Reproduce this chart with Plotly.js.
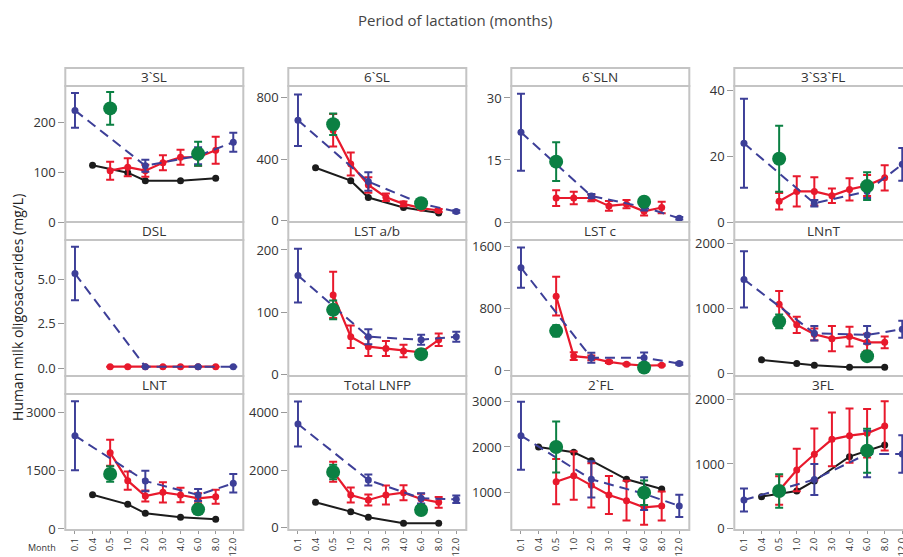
<!DOCTYPE html>
<html>
<head>
<meta charset="utf-8">
<script src="https://cdn.plot.ly/plotly-3.0.1.min.js"></script>
<style>
  html, body { margin: 0; padding: 0; overflow: hidden; background: #fff; }
  #chart { width: 920px; height: 557px; }
</style>
</head>
<body>
<div id="chart"></div>
<script>
// Sampling months (category axis)
const months = ['0.1', '0.4', '0.5', '1.0', '2.0', '3.0', '4.0', '6.0', '8.0', '12.0'];

// Oligosaccharide panels, row by row
const panelNames = ['3`SL', '6`SL', '6`SLN', '3`S3`FL', 'DSL', 'LST a/b', 'LST c', 'LNnT', 'LNT', 'Total LNFP', '2`FL', '3FL'];

// Months at which each cohort was sampled
const blueMonths = ['0.1', '2.0', '6.0', '12.0'];
const redMonths = ['0.5', '1.0', '2.0', '3.0', '4.0', '6.0', '8.0'];
const blackMonths = ['0.4', '1.0', '2.0', '4.0', '8.0'];
const greenMonths = ['0.5', '6.0'];

// Cohort 1 (dashed blue): mean and error, one row per panel
const blueMean = [
  [224, 113, 133, 160],
  [654, 255, 112, 60],
  [21.7, 6.3, 3.6, 0.9],
  [23.9, 5.7, 9.3, 17.5],
  [5.32, 0.1, 0.1, 0.1],
  [159, 61, 56, 61],
  [1326, 161, 161, 87],
  [1443, 619, 593, 680],
  [2407, 1238, 877, 1178],
  [3605, 1651, 1012, 977],
  [2250, 1287, 970, 699],
  [443, 760, 1155, 1155]
];
const blueErr = [
  [35, 12, 17, 19],
  [167, 60, 20, 8],
  [9.3, 0.5, 0.8, 0.3],
  [13.5, 1, 2, 5],
  [1.5, 0, 0, 0],
  [43, 12, 8, 8],
  [260, 65, 67, 15],
  [430, 110, 135, 130],
  [890, 265, 155, 240],
  [785, 190, 180, 130],
  [750, 400, 360, 245],
  [178, 240, 360, 290]
];

// Cohort 2 (solid red)
const redMean = [
  [103, 110, 103, 119, 130, 130, 144],
  [589, 369, 233, 153, 110, 82, 67],
  [5.8, 5.8, 5.8, 3.9, 4.3, 2.6, 3.5],
  [6.3, 9.3, 9.3, 8.0, 9.9, 11.1, 13.4],
  [0.1, 0.1, 0.1, 0.1, 0.1, 0.1, 0.1],
  [128, 61, 45, 42, 38, 36, 56],
  [957, 183, 161, 109, 78, 61, 65],
  [1062, 747, 603, 536, 567, 479, 479],
  [1968, 1246, 851, 946, 877, 791, 834],
  [1942, 1128, 954, 1128, 1209, 989, 872],
  [1235, 1368, 1154, 941, 816, 669, 699],
  [590, 907, 1150, 1381, 1438, 1474, 1588]
];
const redErr = [
  [18, 18, 12, 15, 15, 17, 27],
  [105, 75, 50, 24, 15, 10, 10],
  [1.9, 1.5, 0.8, 1.2, 1.0, 1.0, 1.4],
  [2.5, 4.6, 4.3, 2.2, 3.4, 3.2, 3.8],
  [0, 0, 0, 0, 0, 0, 0],
  [37, 18, 15, 12, 10, 5, 10],
  [250, 50, 30, 15, 10, 8, 8],
  [205, 125, 90, 195, 150, 130, 90],
  [335, 235, 140, 260, 185, 130, 180],
  [350, 260, 190, 335, 260, 180, 185],
  [500, 530, 490, 420, 440, 385, 320],
  [220, 330, 400, 415, 420, 375, 380]
];

// Cohort 3 (solid black, no error bars); null = not measured
const blackMean = [
  [114, 99, 83, 83, 88],
  [345, 261, 151, 86, 50],
  null,
  null,
  null,
  null,
  null,
  [211, 155, 129, 98, 98],
  [885, 636, 404, 301, 249],
  [872, 547, 349, 140, 140],
  [2000, 1882, 1699, 1287, 1074],
  [495, 583, 737, 1113, 1294]
];

// Cohort 4 (large green points)
const greenMean = [
  [228, 137],
  [628, 114],
  [14.6, 4.9],
  [19.2, 10.9],
  null,
  [104, 33],
  [509, 35],
  [799, 268],
  [1418, 507],
  [1931, 605],
  [2000, 993],
  [583, 1206]
];
const greenErr = [
  [33, 24],
  [70, 20],
  [4.7, 0.8],
  [10, 4.2],
  null,
  [15, 4],
  [72, 10],
  [105, 20],
  [200, 60],
  [250, 60],
  [560, 270],
  [260, 340]
];

// Tick labels on each panel's value axis
const yTickVals = [
  [0, 100, 200], [0, 400, 800], [0, 15, 30], [0, 20, 40],
  [0, 2.5, 5], [0, 100, 200], [0, 800, 1600], [0, 1000, 2000],
  [0, 1500, 3000], [0, 2000, 4000], [1000, 2000, 3000], [0, 1000, 2000]
];
const yTickText = [
  ['0', '100', '200'], ['0', '400', '800'], ['0', '15', '30'], ['0', '20', '40'],
  ['0.0', '2.5', '5.0'], ['0', '100', '200'], ['0', '800', '1600'], ['0', '1000', '2000'],
  ['0', '1500', '3000'], ['0', '2000', '4000'], ['1000', '2000', '3000'], ['0', '1000', '2000']
];
const yRanges = [
  [0, 273], [-8, 877], [0, 32.9], [0, 41.3],
  [-0.42, 7.2], [-2, 216], [-74, 1683], [-36, 2046],
  [-26, 3481], [-93, 4651], [169, 3169], [-21, 2082]
];

// ---- geometry (pixels) ----
const W = 920, H = 557;
const colLeft = [65.3, 288.3, 511.3, 734.3];
const panelW = 178;
const rowGeom = [
  { strip: 68, top: 86, bottom: 222 },
  { strip: 222, top: 240, bottom: 376 },
  { strip: 376, top: 394, bottom: 530 }
];
const px = x => x / W;
const py = y => 1 - y / H;

const COL = { blue: '#3d3f98', red: '#e8192c', black: '#1c1c1c', green: '#0b8043' };
const frameColor = '#c4c4c4';
const textColor = '#333333';
const FONT = 'Open Sans, Noto Sans, sans-serif';

const traces = [];
const layout = {
  width: W, height: H, autosize: false,
  margin: { l: 0, r: 0, t: 0, b: 0 },
  paper_bgcolor: '#fff', plot_bgcolor: '#fff',
  showlegend: false,
  font: { family: FONT, color: textColor },
  shapes: [], annotations: []
};

panelNames.forEach((name, i) => {
  const r = Math.floor(i / 4), c = i % 4;
  const g = rowGeom[r];
  const x0 = colLeft[c], x1 = colLeft[c] + panelW;
  const n = i + 1;
  const xa = 'x' + (n === 1 ? '' : n), ya = 'y' + (n === 1 ? '' : n);
  const isBottom = r === 2;

  layout['xaxis' + (n === 1 ? '' : n)] = {
    domain: [px(x0), px(x1)], anchor: ya,
    type: 'category', categoryorder: 'array', categoryarray: months,
    range: [-0.55, 9.57],
    showgrid: false, zeroline: false, showline: false,
    showticklabels: isBottom, ticks: isBottom ? 'outside' : '',
    ticklen: 3, tickcolor: '#999', tickangle: -90,
    tickfont: { size: 9.5, color: textColor, family: FONT },
    fixedrange: true
  };
  layout['yaxis' + (n === 1 ? '' : n)] = {
    domain: [py(g.bottom), py(g.top)], anchor: xa,
    range: yRanges[i],
    tickmode: 'array', tickvals: yTickVals[i], ticktext: yTickText[i],
    showgrid: false, zeroline: false, showline: false,
    ticks: 'outside', ticklen: 6, tickcolor: '#999',
    tickfont: { size: 13, color: textColor, family: FONT },
    fixedrange: true
  };

  // panel frame and label strip
  layout.shapes.push({
    type: 'rect', xref: 'paper', yref: 'paper', layer: 'above',
    x0: px(x0), x1: px(x1), y0: py(g.bottom), y1: py(g.top),
    line: { color: frameColor, width: 2 }, fillcolor: 'rgba(0,0,0,0)'
  });
  layout.shapes.push({
    type: 'rect', xref: 'paper', yref: 'paper', layer: 'above',
    x0: px(x0), x1: px(x1), y0: py(g.top), y1: py(g.strip),
    line: { color: frameColor, width: 2 }, fillcolor: '#ffffff'
  });
  layout.annotations.push({
    xref: 'paper', yref: 'paper', x: px((x0 + x1) / 2), y: py((g.strip + g.top) / 2),
    xanchor: 'center', yanchor: 'middle', showarrow: false,
    text: name, font: { size: 13.5, color: textColor, family: FONT }
  });

  const common = { xaxis: xa, yaxis: ya, type: 'scatter', hoverinfo: 'skip', cliponaxis: true };

  if (blackMean[i]) {
    traces.push(Object.assign({}, common, {
      x: blackMonths, y: blackMean[i], mode: 'lines+markers',
      line: { color: COL.black, width: 2 },
      marker: { color: COL.black, size: 7 }
    }));
  }
  traces.push(Object.assign({}, common, {
    x: redMonths, y: redMean[i], mode: 'lines+markers',
    line: { color: COL.red, width: 2.2 },
    marker: { color: COL.red, size: 7 },
    error_y: { type: 'data', array: redErr[i], visible: true, color: COL.red, thickness: 2, width: 4 }
  }));
  traces.push(Object.assign({}, common, {
    x: blueMonths, y: blueMean[i], mode: 'lines+markers',
    line: { color: COL.blue, width: 2, dash: '10px,6px' },
    marker: { color: COL.blue, size: 7 },
    error_y: { type: 'data', array: blueErr[i], visible: true, color: COL.blue, thickness: 2, width: 4 }
  }));
  if (greenMean[i]) {
    traces.push(Object.assign({}, common, {
      x: greenMonths, y: greenMean[i], mode: 'markers',
      marker: { color: COL.green, size: 14 },
      error_y: { type: 'data', array: greenErr[i], visible: true, color: COL.green, thickness: 2, width: 4 }
    }));
  }
});

// overall titles
layout.annotations.push({
  xref: 'paper', yref: 'paper', x: px(455), y: py(20), xanchor: 'center', yanchor: 'middle',
  showarrow: false, text: 'Period of lactation (months)', font: { size: 15, color: '#444', family: FONT }
});
layout.annotations.push({
  xref: 'paper', yref: 'paper', x: px(17), y: py(308), xanchor: 'center', yanchor: 'middle',
  showarrow: false, textangle: -90, text: 'Human milk oligosaccarides (mg/L)',
  font: { size: 14, color: '#222', family: FONT }
});
layout.annotations.push({
  xref: 'paper', yref: 'paper', x: px(42), y: py(547), xanchor: 'center', yanchor: 'middle',
  showarrow: false, text: 'Month', font: { size: 9, color: textColor, family: FONT }
});

Plotly.newPlot('chart', traces, layout, { staticPlot: true, displayModeBar: false });
</script>
</body>
</html>
